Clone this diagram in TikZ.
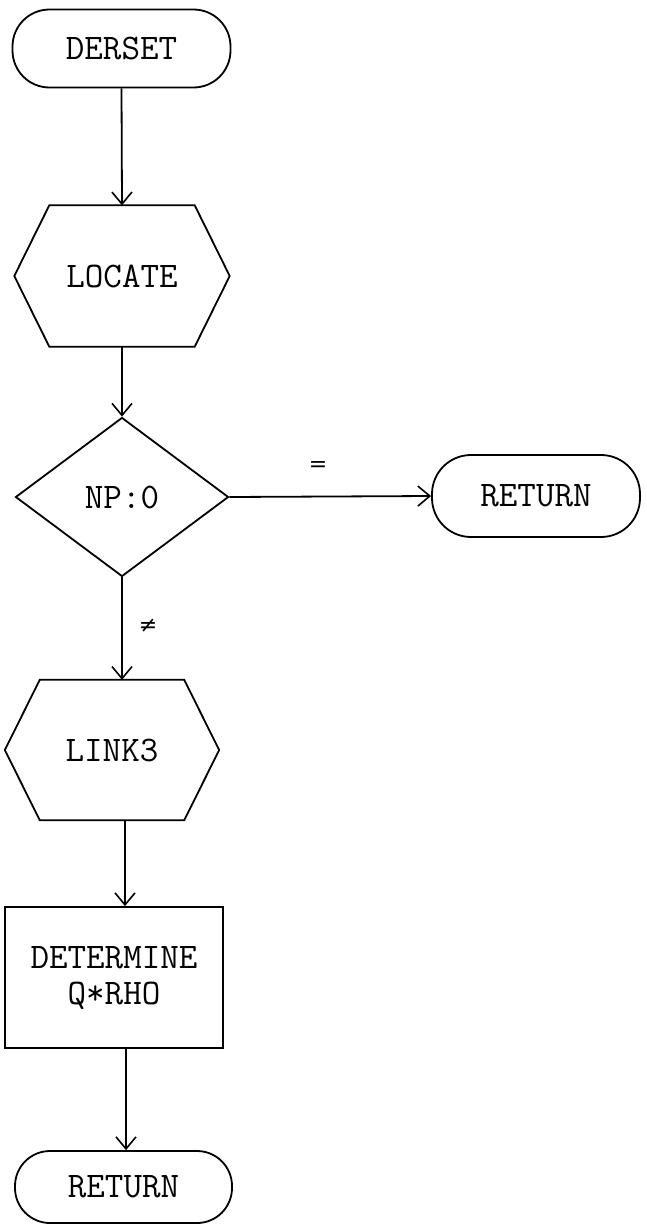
\documentclass[tikz,border=0pt]{standalone}
\usepackage{fontspec}
\newfontfamily\symfont{DejaVu Sans}
\usetikzlibrary{arrows.meta,shapes.geometric,calc}
\begin{document}
\begin{tikzpicture}[x=1pt,y=-1pt,
  line/.style={line width=1.8pt},
  arr/.style={line, -{Straight Barb[length=12pt,width=20pt,line width=1.6pt]}},
  lbl/.style={font=\fontsize{36}{36}\selectfont\ttfamily, inner sep=0pt, align=center},
  term/.style={lbl, draw, line, rounded corners=37pt, minimum width=218pt, minimum height=78pt},
  hexbox/.style={lbl, minimum width=215pt, minimum height=141pt},
  decision/.style={lbl, draw, line, shape=diamond, minimum width=213pt, minimum height=159pt},
  procbox/.style={lbl, draw, line, minimum width=218pt, minimum height=141pt},
  edgelbl/.style={inner sep=0pt, font=\fontsize{22}{22}\selectfont\symfont}
]
\useasboundingbox (0,0) rectangle (646,1226);

\node[term] (derset) at (121.5,48.5) {DERSET};
\node[hexbox] (locate) at (122,276) {LOCATE};
\node[decision] (np) at (122,497) {NP:0};
\node[term, minimum width=208pt, minimum height=82pt, rounded corners=39pt] (ret1) at (536,496) {RETURN};
\node[hexbox, minimum width=214pt, minimum height=140pt] (link) at (112,750) {LINK3};
\node[procbox] (det) at (114,977.5) {DETERMINE\\Q*RHO};
\node[term, minimum width=217pt, minimum height=72pt, rounded corners=35pt] (ret2) at (123.5,1187) {RETURN};

\foreach \n in {locate,link}{
  \draw[line] (\n.west) -- ($(\n.north west)+(35,0)$) -- ($(\n.north east)+(-35,0)$)
     -- (\n.east) -- ($(\n.south east)+(-35,0)$) -- ($(\n.south west)+(35,0)$) -- cycle;
}

\coordinate (linkout) at ($(link.south)+(13,0)$);
\coordinate (detout) at ($(det.south)+(12,0)$);

\draw[arr] (np.east) -- node[edgelbl, above=24pt, pos=0.44]{=} (ret1.west);
\draw[arr] (derset.south) -- (locate.north);
\draw[arr] (locate.south) -- (np.north);
\draw[arr] (np.south) -- node[edgelbl, right=16pt, pos=0.47]{≠} (np.south |- link.north);
\draw[arr] (linkout) -- (linkout |- det.north);
\draw[arr] (detout) -- (detout |- ret2.north);
\end{tikzpicture}
\end{document}
